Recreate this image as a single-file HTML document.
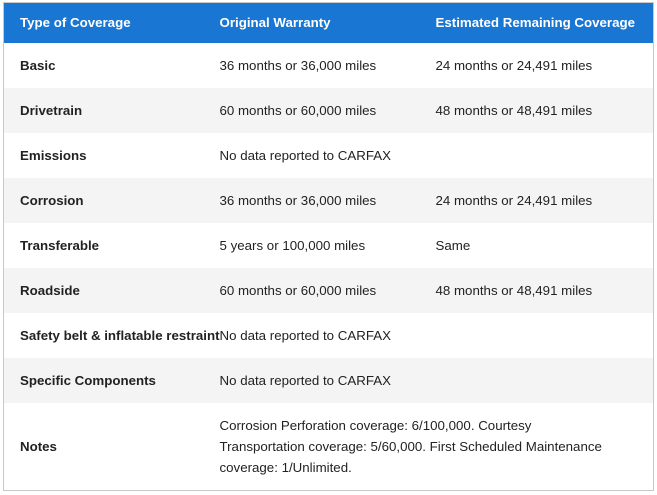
<!DOCTYPE html>
<html><head><meta charset="utf-8"><style>
html,body{margin:0;padding:0;background:#fff;width:657px;height:495px;overflow:hidden}
table{position:absolute;left:3px;top:2px;width:650px;border-collapse:collapse;border:1px solid #c8c8c8;font-family:"Liberation Sans",Arial,sans-serif;font-size:13.3px;color:#222;table-layout:fixed}
th{background:#1976d2;color:#fff;text-align:left;font-weight:bold;height:40px;padding:0 0 0 16px;box-sizing:border-box}
td{height:45px;padding:0 0 0 16px;box-sizing:border-box;vertical-align:middle;white-space:nowrap}
td:first-child{font-weight:bold;padding-left:16px}
tr.g td{background:#f4f4f4}
tr.n td{height:88px;line-height:21px;white-space:normal}
</style></head><body>
<table>
<colgroup><col style="width:200px"><col style="width:216px"><col style="width:234px"></colgroup>
<tr><th>Type of Coverage</th><th>Original Warranty</th><th>Estimated Remaining Coverage</th></tr>
<tr><td>Basic</td><td>36 months or 36,000 miles</td><td>24 months or 24,491 miles</td></tr>
<tr class="g"><td>Drivetrain</td><td>60 months or 60,000 miles</td><td>48 months or 48,491 miles</td></tr>
<tr><td>Emissions</td><td>No data reported to CARFAX</td><td></td></tr>
<tr class="g"><td>Corrosion</td><td>36 months or 36,000 miles</td><td>24 months or 24,491 miles</td></tr>
<tr><td>Transferable</td><td>5 years or 100,000 miles</td><td>Same</td></tr>
<tr class="g"><td>Roadside</td><td>60 months or 60,000 miles</td><td>48 months or 48,491 miles</td></tr>
<tr><td style="overflow:visible">Safety belt &amp; inflatable restraint</td><td>No data reported to CARFAX</td><td></td></tr>
<tr class="g"><td>Specific Components</td><td>No data reported to CARFAX</td><td></td></tr>
<tr class="n"><td>Notes</td><td colspan="2">Corrosion Perforation coverage: 6/100,000. Courtesy<br>Transportation coverage: 5/60,000. First Scheduled Maintenance<br>coverage: 1/Unlimited.</td></tr>
</table>
</body></html>
